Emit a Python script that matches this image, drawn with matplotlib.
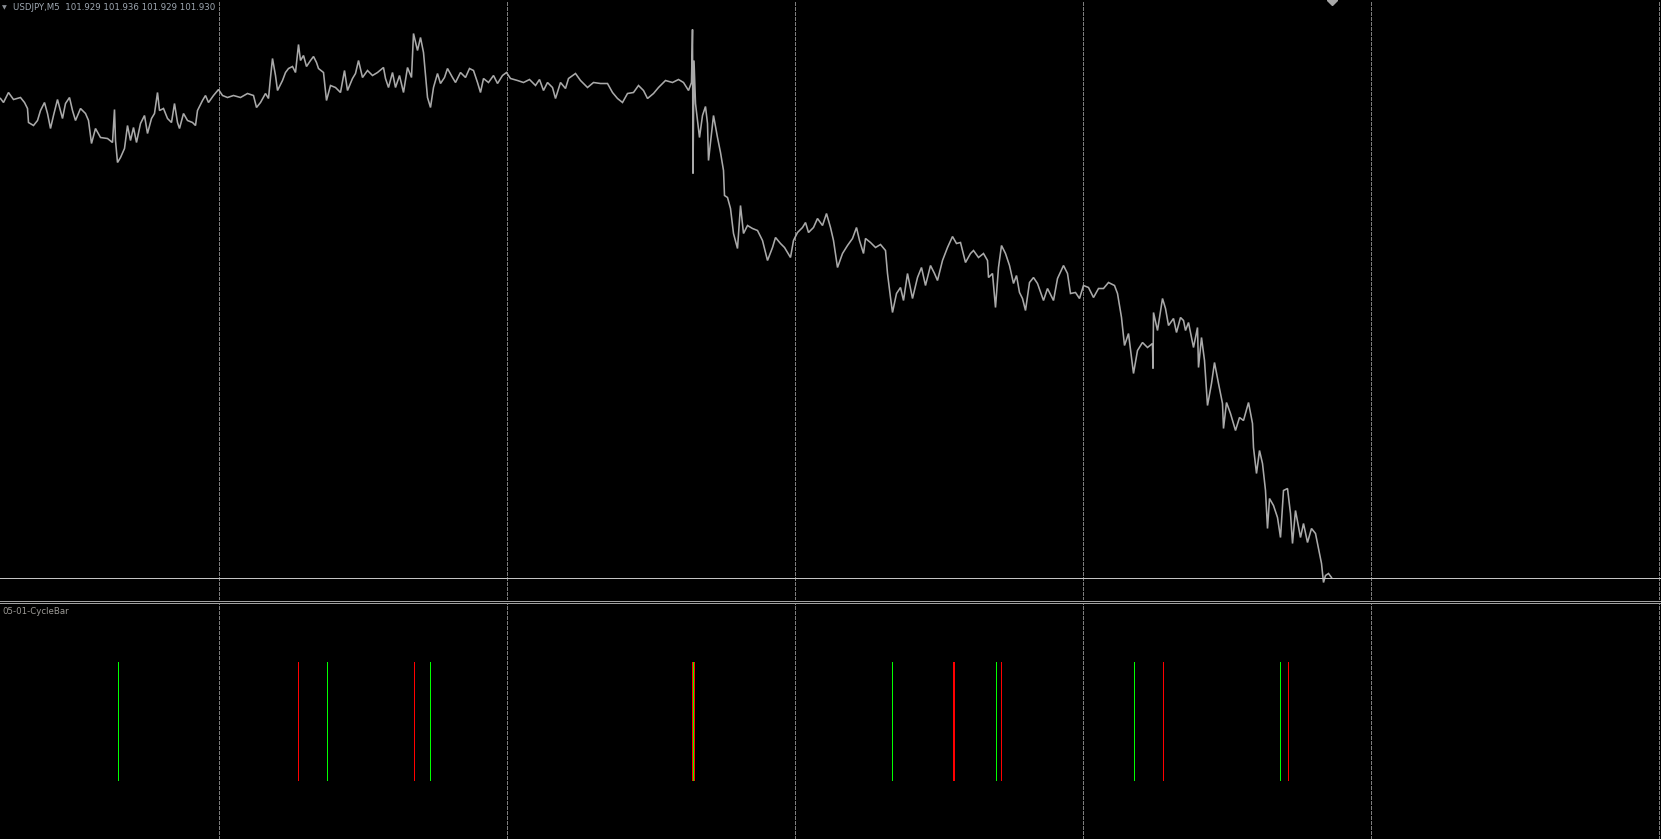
import numpy as np
import matplotlib.pyplot as plt
from matplotlib.lines import Line2D
import matplotlib.transforms as mtransforms

bar_idx = [0, 3, 8, 13, 20, 24, 27, 28, 33, 37, 40, 44, 47, 50, 53, 57, 62, 65, 69, 72,
           75, 80, 85, 88, 91, 95, 100, 107, 112, 114, 115, 117, 120, 124, 127, 130, 133, 136, 140, 144,
           147, 151, 154, 157, 159, 163, 167, 171, 174, 177, 179, 183, 187, 192, 195, 197, 202, 205, 208, 213,
           218, 222, 227, 233, 240, 247, 253, 256, 260, 265, 268, 270, 272, 275, 277, 282, 285, 288, 292, 295,
           298, 300, 303, 306, 310, 313, 316, 318, 323, 326, 330, 335, 340, 344, 347, 352, 355, 358, 362, 367,
           372, 377, 383, 385, 388, 392, 395, 399, 403, 407, 411, 413, 417, 420, 423, 425, 427, 430, 433, 437,
           440, 444, 447, 452, 455, 460, 465, 469, 473, 477, 480, 483, 488, 493, 497, 502, 506, 510, 517, 523,
           529, 535, 539, 543, 547, 552, 555, 560, 565, 568, 575, 580, 587, 593, 600, 607, 612, 617, 622, 627,
           633, 638, 643, 647, 653, 658, 665, 672, 678, 683, 688, 691, 692, 692.5, 693.5, 695, 697, 699, 702, 705,
           707, 708, 713, 717, 720, 723, 724, 727, 730, 733, 737, 740, 743, 747, 752, 757, 762, 767, 772, 775,
           780, 784, 790, 793, 797, 802, 805, 808, 813, 817, 822, 826, 830, 833, 837, 842, 847, 852, 856, 859,
           863, 865, 870, 875, 880, 885, 887, 890, 892, 896, 900, 903, 907, 912, 917, 921, 925, 930, 934, 937,
           942, 947, 952, 956, 960, 965, 970, 973, 978, 983, 987, 988, 992, 995, 998, 1001, 1005, 1009, 1013, 1016,
           1019, 1022, 1025, 1029, 1033, 1037, 1043, 1047, 1053, 1057, 1063, 1067, 1070, 1075, 1079, 1083, 1088, 1093, 1098, 1103,
           1108, 1114, 1117, 1121, 1124, 1128, 1133, 1137, 1142, 1147, 1152, 1152.5, 1153, 1157, 1162, 1165, 1168, 1173, 1176, 1180,
           1183, 1185, 1188, 1193, 1197, 1198, 1201, 1204, 1207, 1211, 1214, 1218, 1222, 1223, 1226, 1230, 1235, 1239, 1243, 1248,
           1252, 1253, 1256, 1259, 1262, 1265, 1267, 1269, 1273, 1277, 1280, 1283, 1287, 1290, 1292, 1295, 1300, 1303, 1307, 1311,
           1315, 1318, 1321, 1323, 1325, 1328, 1331]

close = [102.409, 102.405, 102.415, 102.408, 102.410, 102.405, 102.399, 102.385, 102.382, 102.387,
         102.397, 102.405, 102.394, 102.379, 102.392, 102.408, 102.389, 102.404, 102.410, 102.397,
         102.387, 102.399, 102.394, 102.387, 102.364, 102.379, 102.370, 102.369, 102.365, 102.398,
         102.367, 102.345, 102.350, 102.359, 102.382, 102.367, 102.380, 102.365, 102.384, 102.392,
         102.374, 102.389, 102.394, 102.415, 102.397, 102.399, 102.389, 102.385, 102.404, 102.385,
         102.379, 102.394, 102.387, 102.385, 102.382, 102.397, 102.407, 102.412, 102.405, 102.412,
         102.418, 102.412, 102.410, 102.412, 102.410, 102.414, 102.412, 102.400, 102.405, 102.414,
         102.409, 102.430, 102.449, 102.432, 102.417, 102.427, 102.435, 102.439, 102.441, 102.435,
         102.463, 102.447, 102.452, 102.441, 102.447, 102.451, 102.445, 102.439, 102.435, 102.407,
         102.422, 102.420, 102.415, 102.437, 102.417, 102.429, 102.434, 102.447, 102.430, 102.437,
         102.432, 102.435, 102.440, 102.429, 102.420, 102.435, 102.420, 102.432, 102.415, 102.440,
         102.430, 102.474, 102.457, 102.470, 102.455, 102.432, 102.410, 102.400, 102.420, 102.434,
         102.424, 102.430, 102.439, 102.430, 102.425, 102.435, 102.430, 102.439, 102.437, 102.425,
         102.415, 102.429, 102.425, 102.432, 102.424, 102.432, 102.435, 102.429, 102.427, 102.425,
         102.428, 102.422, 102.428, 102.417, 102.425, 102.420, 102.409, 102.425, 102.419, 102.429,
         102.434, 102.427, 102.420, 102.425, 102.424, 102.424, 102.415, 102.409, 102.405, 102.414,
         102.415, 102.422, 102.417, 102.409, 102.414, 102.420, 102.427, 102.425, 102.428, 102.425,
         102.417, 102.425, 102.478, 102.334, 102.447, 102.404, 102.387, 102.370, 102.392, 102.401,
         102.384, 102.347, 102.392, 102.370, 102.355, 102.337, 102.312, 102.310, 102.299, 102.274,
         102.259, 102.302, 102.274, 102.282, 102.279, 102.277, 102.267, 102.247, 102.260, 102.270,
         102.264, 102.260, 102.250, 102.267, 102.275, 102.280, 102.285, 102.275, 102.280, 102.289,
         102.282, 102.294, 102.280, 102.267, 102.240, 102.254, 102.262, 102.269, 102.280, 102.267,
         102.254, 102.269, 102.265, 102.260, 102.263, 102.257, 102.234, 102.210, 102.195, 102.214,
         102.220, 102.207, 102.234, 102.209, 102.230, 102.240, 102.222, 102.242, 102.234, 102.227,
         102.247, 102.260, 102.271, 102.264, 102.265, 102.245, 102.254, 102.257, 102.250, 102.254,
         102.247, 102.230, 102.234, 102.200, 102.240, 102.262, 102.254, 102.242, 102.224, 102.232,
         102.215, 102.209, 102.197, 102.225, 102.230, 102.224, 102.207, 102.219, 102.207, 102.229,
         102.242, 102.234, 102.214, 102.215, 102.209, 102.222, 102.220, 102.210, 102.219, 102.219,
         102.225, 102.222, 102.214, 102.190, 102.162, 102.174, 102.134, 102.157, 102.165, 102.160,
         102.164, 102.139, 102.195, 102.177, 102.209, 102.199, 102.182, 102.189, 102.175, 102.190,
         102.187, 102.177, 102.185, 102.160, 102.180, 102.140, 102.170, 102.147, 102.102, 102.124,
         102.145, 102.124, 102.104, 102.079, 102.105, 102.094, 102.077, 102.090, 102.087, 102.105,
         102.084, 102.060, 102.034, 102.057, 102.044, 102.017, 101.979, 102.009, 102.002, 101.990,
         101.970, 102.017, 102.019, 101.994, 101.964, 101.997, 101.970, 101.984, 101.965, 101.979,
         101.974, 101.959, 101.944, 101.925, 101.932, 101.934, 101.930]

symbol_label = 'USDJPY,M5'
last_ohlc = [101.929, 101.936, 101.929, 101.930]
bid_price = 101.930

# Indicateur CycleBar : barres de signal (1 = haussier vert, -1 = baissier rouge)
indicator_name = '05-01-CycleBar'
cycle_x = [117, 297, 326, 413, 429, 691, 692, 693, 891, 952, 953, 995, 1000, 1133, 1162, 1279, 1287]
cycle_dir = [1, -1, 1, -1, 1, -1, 1, -1, 1, -1, -1, 1, -1, 1, -1, 1, -1]

W, H, DPI = 1661, 839, 100
fig = plt.figure(figsize=(W / DPI, H / DPI), dpi=DPI, facecolor='black')

# Fenêtre principale (600 px) et sous-fenêtre de l'indicateur
ax = fig.add_axes([0, (H - 600) / H, 1, 600 / H])
ax2 = fig.add_axes([0, 0, 1, (H - 603) / H])
for a in (ax, ax2):
    a.set_facecolor('black')
    a.set_xlim(-0.5, W - 0.5)
    a.axis('off')

ax.set_ylim(101.9075, 102.5075)
ax2.set_ylim(-0.5, 1.5)

# Séparateurs de période (pointillés)
grid_x = np.arange(218.7, W, 288)
for gx in grid_x:
    for a in (ax, ax2):
        a.axvline(np.floor(gx), color='#7c7c7c', lw=0.72, linestyle=(0, (3, 2)),
                  antialiased=False)

# Tracé du cours
ax.plot(bar_idx, close, color='#a9a9a9', lw=1.15, solid_joinstyle='miter')
ax.axhline(bid_price, color='#c4c4c4', lw=0.72, antialiased=False)

# Marqueur de décalage du graphique
trans = mtransforms.blended_transform_factory(ax.transData, ax.transAxes)
ax.plot([bar_idx[-1]], [1.0], marker='D', markersize=4.6, color='#a8a8a8',
        transform=trans, clip_on=False)

# Barres de l'indicateur
colors = ['#00ff00' if d > 0 else '#ff0000' for d in cycle_dir]
ax2.vlines(cycle_x, 0, 1, colors=colors, lw=0.72, antialiased=False)

# Double ligne de séparation entre les fenêtres
for yp in (600.5, 602.5):
    fig.add_artist(Line2D([0, 1], [1 - yp / H, 1 - yp / H], transform=fig.transFigure,
                          color='#a0a0a0', lw=0.72, antialiased=False))

# Textes
fig.text(2 / W, 1 - 7.5 / H, '▼', color='#8a8f96', fontsize=4.5, va='center', ha='left')
title = symbol_label + '  ' + ' '.join('%.3f' % v for v in last_ohlc)
fig.text(13 / W, 1 - 7.5 / H, title, color='#9fa8b2', fontsize=6.2, va='center', ha='left')
fig.text(2 / W, 1 - 612 / H, indicator_name, color='#9c9a96', fontsize=6.2, va='center', ha='left')

fig.savefig('out.png', dpi=DPI, facecolor='black')
